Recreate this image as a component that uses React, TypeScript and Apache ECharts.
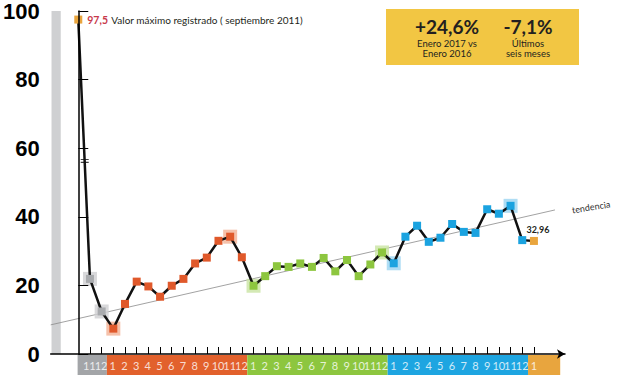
import React, { useEffect, useRef } from "react";
import * as echarts from "echarts";

// ---- data ----
const monthLabels = [
  "", "11", "12",
  "1", "2", "3", "4", "5", "6", "7", "8", "9", "10", "11", "12",
  "1", "2", "3", "4", "5", "6", "7", "8", "9", "10", "11", "12",
  "1", "2", "3", "4", "5", "6", "7", "8", "9", "10", "11", "12",
  "1",
];
const periods = [
  "max", "y2013", "y2013",
  "y2014", "y2014", "y2014", "y2014", "y2014", "y2014", "y2014", "y2014", "y2014", "y2014", "y2014", "y2014",
  "y2015", "y2015", "y2015", "y2015", "y2015", "y2015", "y2015", "y2015", "y2015", "y2015", "y2015", "y2015",
  "y2016", "y2016", "y2016", "y2016", "y2016", "y2016", "y2016", "y2016", "y2016", "y2016", "y2016", "y2016",
  "y2017",
];
const values = [
  97.5, 21.9, 12.4,
  7.4, 14.6, 21.1, 19.7, 16.7, 19.9, 21.9, 26.4, 28.1, 33.0, 34.2, 28.2,
  19.9, 22.7, 25.6, 25.4, 26.4, 25.4, 28.0, 24.1, 27.4, 22.7, 26.1, 29.6,
  26.45, 34.2, 37.4, 32.7, 33.9, 37.9, 35.6, 35.3, 42.2, 40.9, 43.2, 33.2,
  32.96,
];
const highlightIdx = [1, 2, 3, 13, 15, 26, 27, 37];
const trendStart = [-2.36, 8.5];
const trendEnd = [40.8, 42.0];
const breakMark = [0.55, 56.3];
const yMin = 0;
const yMax = 100;
const yInterval = 20;
const maxNote = "Valor máximo registrado ( septiembre 2011)";
const trendNote = "tendencia";
const kpi1 = { value: "+24,6%", lines: ["Enero 2017 vs", "Enero 2016"] };
const kpi2 = { value: "-7,1%", lines: ["Últimos", "seis meses"] };

// ---- styles ----
const colors: Record<string, string> = {
  max: "#e9a53d",
  y2013: "#a9abae",
  y2014: "#e0592b",
  y2015: "#8dc63f",
  y2016: "#1ba3e0",
  y2017: "#e9a53d",
};
const lightColors: Record<string, string> = {
  y2013: "#cfd0d2",
  y2014: "#f2b195",
  y2015: "#c9e4a2",
  y2016: "#9bd5f1",
};
const bandColors: Record<string, string> = {
  y2013: "#a3a5a8",
  y2014: "#e2612c",
  y2015: "#8dc63f",
  y2016: "#1ea5e1",
  y2017: "#e8a53e",
};
const FONT = "Lato, 'Liberation Sans', sans-serif";
const X_MIN = -2.36;
const X_MAX = 41.66;

const fmt = (v: number) => String(v).replace(".", ",");

export default function App() {
  const ref = useRef<HTMLDivElement>(null);
  useEffect(() => {
    document.body.style.margin = "0";
    if (!ref.current) return;
    const chart = echarts.init(ref.current, undefined, { renderer: "svg" });

    const bandKeys = ["y2013", "y2014", "y2015", "y2016", "y2017"];
    const bands = bandKeys.map((k) => {
      const idx = periods.map((p, i) => (p === k ? i : -1)).filter((i) => i >= 0);
      let start = idx[0] - 0.5;
      let end = idx[idx.length - 1] + 0.5;
      if (k === "y2013") start -= 0.5;
      if (k === "y2017") end += 1.75;
      return [
        { xAxis: start, itemStyle: { color: bandColors[k] } },
        { xAxis: end },
      ];
    });

    const tickValues = monthLabels.map((_, i) => i).filter((i) => i > 0);

    const kpiText = (x: number, kpi: { value: string; lines: string[] }) => [
      {
        type: "text",
        x,
        y: 17.5,
        style: { text: kpi.value, fill: "#231f20", font: `bold 19px ${FONT}`, align: "center", verticalAlign: "middle" },
      },
      {
        type: "text",
        x,
        y: 39.5,
        style: {
          text: kpi.lines.join("\n"),
          fill: "#231f20",
          font: `9.5px ${FONT}`,
          lineHeight: 9.5,
          align: "center",
          verticalAlign: "middle",
        },
      },
    ];

    chart.setOption({
      animation: false,
      grid: [
        { left: 50, right: 55, top: 4, bottom: 21 },
        { left: 50, right: 55, top: 355, height: 20 },
      ],
      xAxis: [
        {
          type: "value",
          gridIndex: 0,
          min: X_MIN,
          max: X_MAX,
          z: 5,
          axisLine: {
            show: true,
            lineStyle: { color: "#000", width: 1.5 },
            symbol: ["none", "arrow"],
            symbolSize: [7, 8],
          },
          axisTick: {
            show: true,
            inside: true,
            length: 7,
            customValues: tickValues,
            lineStyle: { color: "#000", width: 1 },
          },
          axisLabel: { show: false },
          splitLine: { show: false },
        },
        { type: "value", gridIndex: 1, min: X_MIN, max: X_MAX, show: false },
      ],
      yAxis: [
        {
          type: "value",
          gridIndex: 0,
          min: yMin,
          max: yMax,
          interval: yInterval,
          z: 5,
          axisLine: { show: true, lineStyle: { color: "#000", width: 1.5 } },
          axisTick: { show: true, inside: true, length: 10, lineStyle: { color: "#000", width: 1 } },
          axisLabel: {
            color: "#000",
            fontSize: 22,
            fontWeight: "bold",
            fontFamily: "'Liberation Sans', Arial, sans-serif",
            margin: 11,
          },
          splitLine: { show: false },
        },
        { type: "value", gridIndex: 1, min: 0, max: 1, show: false },
      ],
      series: [
        {
          name: "trend",
          type: "line",
          xAxisIndex: 0,
          yAxisIndex: 0,
          data: [trendStart, trendEnd],
          symbol: "none",
          lineStyle: { color: "#8a8a8a", width: 0.8 },
          z: 1,
          silent: true,
          endLabel: {
            show: true,
            formatter: trendNote,
            distance: 17,
            rotate: 9,
            fontSize: 9,
            color: "#333",
            fontFamily: FONT,
          },
          markArea: {
            silent: true,
            itemStyle: { color: "#cfd0d2" },
            data: [[{ xAxis: -2.29, yAxis: yMin }, { xAxis: -1.5, yAxis: yMax }]],
          },
        },
        {
          name: "highlight",
          type: "scatter",
          xAxisIndex: 0,
          yAxisIndex: 0,
          symbol: "rect",
          symbolSize: 14,
          z: 2,
          silent: true,
          data: highlightIdx.map((i) => ({
            value: [i, values[i]],
            itemStyle: { color: lightColors[periods[i]] },
          })),
        },
        {
          name: "value",
          type: "line",
          xAxisIndex: 0,
          yAxisIndex: 0,
          symbol: "rect",
          symbolSize: 8,
          showAllSymbol: true,
          lineStyle: { color: "#111", width: 2.5 },
          z: 3,
          data: values.map((v, i) => {
            const item: any = { value: [i, v], itemStyle: { color: colors[periods[i]] } };
            if (i === 0) {
              item.label = {
                show: true,
                position: "right",
                distance: 5,
                formatter: `{a|${fmt(v)}} {b|${maxNote}}`,
                rich: {
                  a: { color: "#c8394b", fontWeight: "bold", fontSize: 10.5, fontFamily: FONT },
                  b: { color: "#231f20", fontSize: 10, fontFamily: FONT },
                },
              };
            }
            if (i === values.length - 1) {
              item.label = {
                show: true,
                position: "top",
                distance: 3,
                offset: [4, 0],
                formatter: fmt(v),
                fontSize: 9,
                fontWeight: "bold",
                color: "#231f20",
                fontFamily: FONT,
              };
            }
            return item;
          }),
        },
        {
          name: "break",
          type: "scatter",
          xAxisIndex: 0,
          yAxisIndex: 0,
          symbol: "path://M0,0L10,0L10,1.3L0,1.3Z M0,3.2L10,3.2L10,4.5L0,4.5Z",
          symbolSize: [8, 4],
          itemStyle: { color: "#111" },
          z: 4,
          silent: true,
          data: [breakMark],
        },
        {
          name: "bands",
          type: "scatter",
          xAxisIndex: 1,
          yAxisIndex: 1,
          data: [],
          silent: true,
          markArea: { silent: true, data: bands },
        },
        {
          name: "labels",
          type: "scatter",
          xAxisIndex: 1,
          yAxisIndex: 1,
          symbolSize: 1,
          itemStyle: { color: "rgba(0,0,0,0)" },
          silent: true,
          z: 5,
          data: tickValues.map((i) => [i, 0.5]),
          label: {
            show: true,
            position: "inside",
            color: "#fff",
            fontSize: 11,
            fontFamily: FONT,
            formatter: (p: any) => monthLabels[p.value[0]],
          },
        },
      ],
      graphic: [
        {
          type: "group",
          left: 386,
          top: 9,
          children: [
            { type: "rect", shape: { x: 0, y: 0, width: 193, height: 56 }, style: { fill: "#f2c643" } },
            ...kpiText(61, kpi1),
            ...kpiText(142, kpi2),
          ],
        },
      ],
    });
    return () => chart.dispose();
  }, []);
  return <div ref={ref} style={{ width: 620, height: 375 }} />;
}
